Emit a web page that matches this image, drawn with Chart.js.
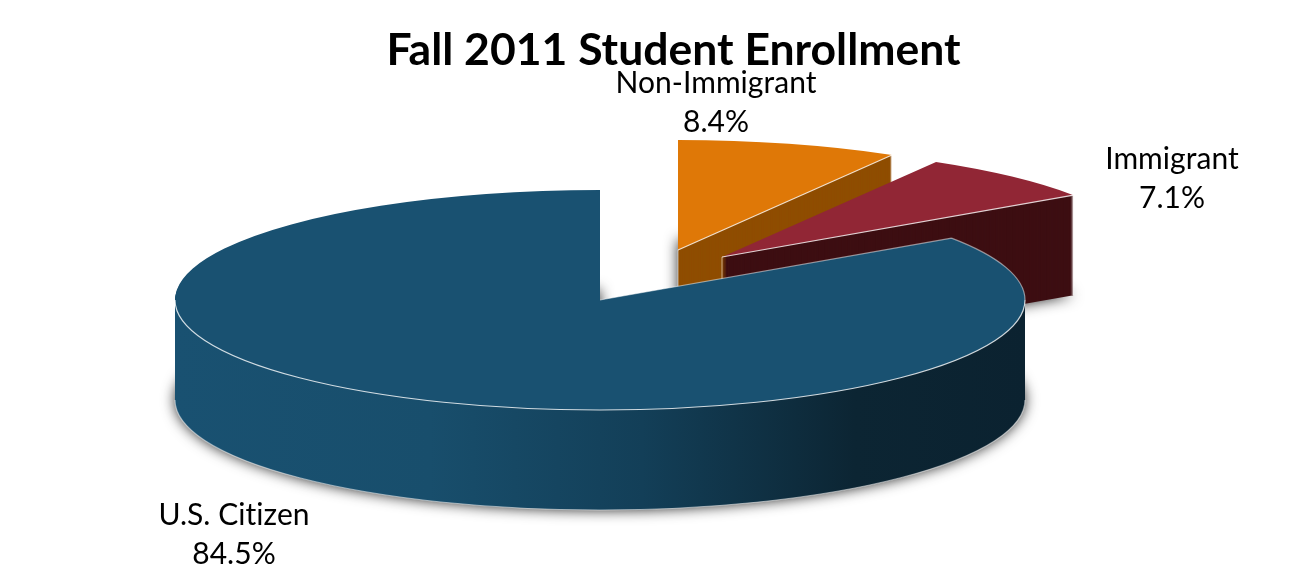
<!DOCTYPE html>
<html>
<head>
<meta charset="utf-8">
<title>Fall 2011 Student Enrollment</title>
<script src="https://cdn.jsdelivr.net/npm/chart.js@4/dist/chart.umd.min.js"></script>
<style>
  html, body { margin: 0; padding: 0; background: #fff; }
  canvas { display: block; }
</style>
</head>
<body>
<canvas id="pie-chart" width="1311" height="571"></canvas>
<script>
const categories = ['U.S. Citizen', 'Non-Immigrant', 'Immigrant'];
const percentages = [84.5, 8.4, 7.1];

const topColors = ['#195171', '#DF7807', '#912635'];
const wallColors = [null, '#8F4D00', '#3D0E12'];

// 3D look: the flat pie from Chart.js gets squashed into an ellipse
const center = { x: 600, y: 300 };
const radiusX = 425;
const radiusY = 110;
const depth = 100;
const explode = [[0, 0], [78, -50], [122, -43]];
const drawOrder = [1, 2, 0];
const labelSpots = [[234, 515], [716, 83], [1172, 159]];
const lineGap = 39;

function wedgePath(ctx, x, y, start, end) {
    ctx.beginPath();
    ctx.moveTo(x, y);
    ctx.ellipse(x, y, radiusX, radiusY, 0, start, end);
    ctx.closePath();
}

function blueWall(ctx) {
    const g = ctx.createLinearGradient(center.x - radiusX, 0, center.x + radiusX, 0);
    g.addColorStop(0, '#195171');
    g.addColorStop(0.3, '#184E6C');
    g.addColorStop(0.55, '#133F58');
    g.addColorStop(0.8, '#0C2533');
    g.addColorStop(1, '#0B2230');
    return g;
}

const pie3d = {
    id: 'pie3d',
    beforeDatasetsDraw(chart) {
        const ctx = chart.ctx;
        const arcs = chart.getDatasetMeta(0).data;

        drawOrder.forEach(i => {
            const arc = arcs[i];
            const x = center.x + explode[i][0];
            const y = center.y + explode[i][1];
            const start = arc.startAngle;
            const end = arc.endAngle;

            // side wall, stacked from the bottom up
            ctx.save();
            ctx.fillStyle = wallColors[i] || blueWall(ctx);
            ctx.shadowColor = 'rgba(0,0,0,0.85)';
            ctx.shadowBlur = 14;
            wedgePath(ctx, x, y + depth, start, end);
            ctx.fill();
            ctx.shadowColor = 'transparent';
            ctx.shadowBlur = 0;
            for (let d = depth - 1; d > 0; d--) {
                wedgePath(ctx, x, y + d, start, end);
                ctx.fill();
            }
            ctx.restore();

            // top face is the library's own arc element
            ctx.save();
            ctx.translate(x, y);
            ctx.scale(radiusX / arc.outerRadius, radiusY / arc.outerRadius);
            ctx.translate(-arc.x, -arc.y);
            arc.draw(ctx);
            ctx.restore();

            // thin light edges
            ctx.save();
            ctx.strokeStyle = 'rgba(255,255,255,0.8)';
            ctx.lineWidth = 1.2;
            ctx.beginPath();
            if (i === 0) {
                ctx.ellipse(x, y, radiusX, radiusY, 0, 0, Math.PI);
                ctx.stroke();
                ctx.strokeStyle = 'rgba(255,255,255,0.5)';
                ctx.beginPath();
                ctx.ellipse(x, y, radiusX, radiusY, 0, start, 0);
                ctx.moveTo(x, y);
                ctx.lineTo(x + radiusX * Math.cos(start), y + radiusY * Math.sin(start));
                ctx.stroke();
                ctx.beginPath();
                ctx.ellipse(x, y + depth, radiusX, radiusY, 0, 0, Math.PI);
                ctx.stroke();
            } else {
                const ex = x + radiusX * Math.cos(end);
                const ey = y + radiusY * Math.sin(end);
                ctx.moveTo(x, y);
                ctx.lineTo(ex, ey);
                ctx.stroke();
                ctx.strokeStyle = 'rgba(255,255,255,0.45)';
                ctx.beginPath();
                ctx.moveTo(ex, ey);
                ctx.lineTo(ex, ey + depth);
                ctx.moveTo(x, y);
                ctx.lineTo(x, y + depth);
                ctx.stroke();
            }
            ctx.restore();
        });

        return false;
    },
    afterDraw(chart) {
        const ctx = chart.ctx;
        ctx.save();
        ctx.fillStyle = '#000';
        ctx.font = '30px Lato';
        ctx.letterSpacing = '0.05px';
        ctx.textAlign = 'center';
        ctx.textBaseline = 'middle';
        categories.forEach((name, i) => {
            ctx.fillText(name, labelSpots[i][0], labelSpots[i][1]);
            ctx.fillText(percentages[i].toFixed(1) + '%', labelSpots[i][0], labelSpots[i][1] + lineGap);
        });
        ctx.restore();
    }
};

new Chart(document.getElementById('pie-chart').getContext('2d'), {
    type: 'pie',
    data: {
        labels: categories,
        datasets: [{
            data: percentages,
            backgroundColor: topColors,
            borderWidth: 0
        }]
    },
    options: {
        responsive: false,
        animation: false,
        rotation: 55.8,
        layout: { padding: { left: 36 } },
        plugins: {
            legend: { display: false },
            tooltip: { enabled: false },
            title: {
                display: true,
                fullSize: false,
                text: 'Fall 2011 Student Enrollment',
                color: '#000',
                font: { family: 'Lato', size: 44.5, weight: 'bold' },
                padding: { top: 24, bottom: 10 }
            }
        }
    },
    plugins: [pie3d]
});
</script>
</body>
</html>
